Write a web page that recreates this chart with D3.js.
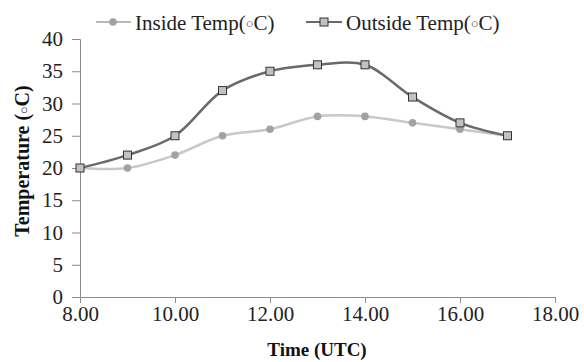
<!DOCTYPE html>
<html><head><meta charset="utf-8">
<script src="https://cdn.jsdelivr.net/npm/d3@7"></script>
<style>body{margin:0;background:#fff}</style>
</head><body>
<svg id="c" width="584" height="362"></svg>
<script>
const times = [8, 9, 10, 11, 12, 13, 14, 15, 16, 17];
const insideTemp = [20, 20, 22, 25, 26, 28, 28, 27, 26, 25];
const outsideTemp = [20, 22, 25, 32, 35, 36, 36, 31, 27, 25];
const xTicks = [8, 10, 12, 14, 16, 18];
const yTicks = [0, 5, 10, 15, 20, 25, 30, 35, 40];
const seriesNames = ["Inside Temp(", "Outside Temp("];

const svg = d3.select("#c");
const font = "'Liberation Serif','Times New Roman',serif";
const x = d3.scaleLinear().domain([8, 18]).range([80, 555]);
const y = d3.scaleLinear().domain([0, 40]).range([297, 39]);
const axisColor = "#8a8a8a";

const xAxis = svg.append("g").attr("transform", "translate(0,297)")
  .call(d3.axisBottom(x).tickValues(xTicks).tickFormat(d3.format(".2f")).tickSizeOuter(0).tickSize(6).tickPadding(3));
const yAxis = svg.append("g").attr("transform", "translate(80,0)")
  .call(d3.axisLeft(y).tickValues(yTicks).tickSizeOuter(0).tickSize(8).tickPadding(9));
[xAxis, yAxis].forEach(g => {
  g.select(".domain").attr("stroke", axisColor).attr("stroke-width", 1);
  g.selectAll(".tick line").attr("stroke", axisColor);
  g.selectAll(".tick text").attr("fill", "#222").style("font-family", font).style("font-size", "21px");
});

function degText(sel, prefix) {
  sel.append("tspan").text(prefix);
  sel.append("tspan").style("font-size", "0.62em").attr("dy", "-0.12em").text("\u25CB");
  sel.append("tspan").attr("dy", "0.07em").text("C)");
}

svg.append("text").attr("x", 317).attr("y", 356).attr("text-anchor", "middle")
  .style("font-family", font).style("font-size", "19px").style("font-weight", "bold").attr("fill", "#111")
  .text("Time (UTC)");
degText(svg.append("text").attr("transform", "translate(29,161) rotate(-90)").attr("text-anchor", "middle")
  .style("font-family", font).style("font-size", "20px").style("font-weight", "bold").attr("fill", "#111"), "Temperature (");

const line = d3.line().x(d => x(d[0])).y(d => y(d[1])).curve(d3.curveCatmullRom.alpha(0.5));
const inData = times.map((t, i) => [t, insideTemp[i]]);
const outData = times.map((t, i) => [t, outsideTemp[i]]);

svg.append("path").datum(inData).attr("d", line).attr("fill", "none").attr("stroke", "#c8c8c8").attr("stroke-width", 2.5);
svg.append("path").datum(outData).attr("d", line).attr("fill", "none").attr("stroke", "#6a6a6a").attr("stroke-width", 2.5);

svg.selectAll(".inm").data(inData).enter().append("circle")
  .attr("cx", d => x(d[0])).attr("cy", d => y(d[1])).attr("r", 3.8).attr("fill", "#a2a2a2");
svg.selectAll(".outm").data(outData).enter().append("rect")
  .attr("x", d => x(d[0]) - 4).attr("y", d => y(d[1]) - 4).attr("width", 8).attr("height", 8)
  .attr("fill", "#c2c2c2").attr("stroke", "#333").attr("stroke-width", 1);

// legend
const lg = svg.append("g");
lg.append("line").attr("x1", 96).attr("x2", 131).attr("y1", 22).attr("y2", 22).attr("stroke", "#b8b8b8").attr("stroke-width", 2);
lg.append("circle").attr("cx", 113).attr("cy", 22).attr("r", 3.8).attr("fill", "#a2a2a2");
degText(lg.append("text").attr("x", 135).attr("y", 30).style("font-family", font).style("font-size", "21px").attr("fill", "#222"), seriesNames[0]);
lg.append("line").attr("x1", 306).attr("x2", 342).attr("y1", 22).attr("y2", 22).attr("stroke", "#6a6a6a").attr("stroke-width", 2);
lg.append("rect").attr("x", 320).attr("y", 18).attr("width", 8).attr("height", 8).attr("fill", "#c2c2c2").attr("stroke", "#333");
degText(lg.append("text").attr("x", 346).attr("y", 30).style("font-family", font).style("font-size", "21px").attr("fill", "#222"), seriesNames[1]);
</script>
</body></html>
